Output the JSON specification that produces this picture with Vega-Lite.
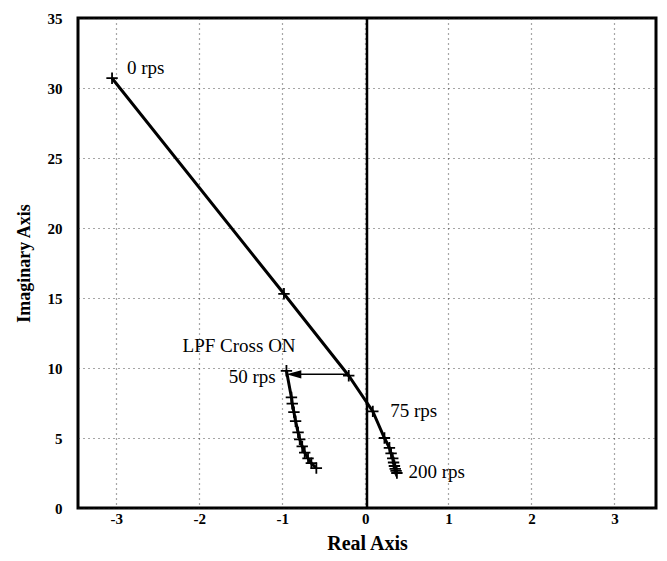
{
  "$schema": "https://vega.github.io/schema/vega-lite/v6.json",
  "autosize": "none",
  "width": 578,
  "height": 490,
  "padding": {"left": 78, "top": 18, "right": 11, "bottom": 53},
  "background": "white",
  "config": {
    "view": {"stroke": "black", "strokeWidth": 3},
    "font": "Liberation Serif",
    "axis": {
      "domain": false,
      "ticks": false,
      "grid": true,
      "gridColor": "#222",
      "gridDash": [1, 4],
      "gridWidth": 1.2,
      "gridOpacity": 0.8,
      "labelFont": "Liberation Serif",
      "labelFontWeight": "bold",
      "labelFontSize": 15,
      "labelColor": "black",
      "titleFont": "Liberation Serif",
      "titleFontWeight": "bold",
      "titleColor": "black"
    }
  },
  "datasets": {
    "curve": [
      {"s": "main", "i": 0, "x": -3.05, "y": 30.7},
      {"s": "main", "i": 1, "x": -0.98, "y": 15.3},
      {"s": "main", "i": 2, "x": -0.2, "y": 9.45},
      {"s": "main", "i": 3, "x": 0.09, "y": 6.9},
      {"s": "main", "i": 4, "x": 0.23, "y": 5.0},
      {"s": "main", "i": 5, "x": 0.29, "y": 4.3},
      {"s": "main", "i": 6, "x": 0.31, "y": 3.9},
      {"s": "main", "i": 7, "x": 0.33, "y": 3.55},
      {"s": "main", "i": 8, "x": 0.34, "y": 3.25},
      {"s": "main", "i": 9, "x": 0.35, "y": 3.0},
      {"s": "main", "i": 10, "x": 0.36, "y": 2.8},
      {"s": "main", "i": 11, "x": 0.37, "y": 2.65},
      {"s": "main", "i": 12, "x": 0.38, "y": 2.5},
      {"s": "lpf", "i": 0, "x": -0.95, "y": 9.8},
      {"s": "lpf", "i": 1, "x": -0.89, "y": 7.9},
      {"s": "lpf", "i": 2, "x": -0.88, "y": 7.45},
      {"s": "lpf", "i": 3, "x": -0.86, "y": 6.85},
      {"s": "lpf", "i": 4, "x": -0.84, "y": 6.2},
      {"s": "lpf", "i": 5, "x": -0.81, "y": 5.4},
      {"s": "lpf", "i": 6, "x": -0.79, "y": 4.9},
      {"s": "lpf", "i": 7, "x": -0.76, "y": 4.4},
      {"s": "lpf", "i": 8, "x": -0.73, "y": 3.95},
      {"s": "lpf", "i": 9, "x": -0.69, "y": 3.55},
      {"s": "lpf", "i": 10, "x": -0.65, "y": 3.2},
      {"s": "lpf", "i": 11, "x": -0.59, "y": 2.85}
    ],
    "labels": [
      {"t": "0 rps", "x": -2.87, "y": 31.4, "a": "left"},
      {"t": "LPF Cross ON", "x": -1.52, "y": 11.55, "a": "center"},
      {"t": "50 rps", "x": -1.08, "y": 9.35, "a": "right"},
      {"t": "75 rps", "x": 0.3, "y": 6.9, "a": "left"},
      {"t": "200 rps", "x": 0.52, "y": 2.6, "a": "left"}
    ],
    "arrow": [
      {"x": -0.22, "x2": -0.82, "y": 9.55, "tip": -0.86}
    ],
    "zero": [{"x": 0.02}]
  },
  "layer": [
    {
      "data": {"name": "zero"},
      "mark": {"type": "rule", "color": "black", "strokeWidth": 2.5},
      "encoding": {
        "x": {
          "field": "x", "type": "quantitative",
          "scale": {"domain": [-3.46, 3.5], "nice": false, "zero": false},
          "axis": {"values": [-3, -2, -1, 0, 1, 2, 3], "labelExpr": "toString(datum.value)", "title": "Real Axis", "titleFontSize": 20, "labelPadding": 3, "titlePadding": 7}
        }
      }
    },
    {
      "data": {"name": "curve"},
      "mark": {"type": "line", "color": "black", "strokeWidth": 3},
      "encoding": {
        "x": {"field": "x", "type": "quantitative"},
        "y": {
          "field": "y", "type": "quantitative",
          "scale": {"domain": [0, 35], "nice": false},
          "axis": {"values": [0, 5, 10, 15, 20, 25, 30, 35], "title": "Imaginary Axis", "titleFontSize": 18, "labelPadding": 16, "titlePadding": 14}
        },
        "detail": {"field": "s"},
        "order": {"field": "i", "type": "quantitative"}
      }
    },
    {
      "data": {"name": "curve"},
      "mark": {"type": "point", "shape": "M-1,0H1M0,-1V1", "filled": false, "color": "black", "strokeWidth": 1.8, "size": 130, "opacity": 1},
      "encoding": {
        "x": {"field": "x", "type": "quantitative"},
        "y": {"field": "y", "type": "quantitative"}
      }
    },
    {
      "data": {"name": "arrow"},
      "mark": {"type": "rule", "color": "black", "strokeWidth": 1.5},
      "encoding": {
        "x": {"field": "x", "type": "quantitative"},
        "x2": {"field": "x2"},
        "y": {"field": "y", "type": "quantitative"}
      }
    },
    {
      "data": {"name": "arrow"},
      "mark": {"type": "point", "shape": "M-1,0L1,-0.55L1,0.55Z", "filled": true, "color": "black", "size": 220, "opacity": 1},
      "encoding": {
        "x": {"field": "tip", "type": "quantitative"},
        "y": {"field": "y", "type": "quantitative"}
      }
    },
    {
      "data": {"name": "labels"},
      "transform": [{"filter": "datum.a === 'left'"}],
      "mark": {"type": "text", "align": "left", "baseline": "middle", "fontSize": 19, "font": "Liberation Serif", "color": "black"},
      "encoding": {
        "x": {"field": "x", "type": "quantitative"},
        "y": {"field": "y", "type": "quantitative"},
        "text": {"field": "t"}
      }
    },
    {
      "data": {"name": "labels"},
      "transform": [{"filter": "datum.a === 'center'"}],
      "mark": {"type": "text", "align": "center", "baseline": "middle", "fontSize": 19, "font": "Liberation Serif", "color": "black"},
      "encoding": {
        "x": {"field": "x", "type": "quantitative"},
        "y": {"field": "y", "type": "quantitative"},
        "text": {"field": "t"}
      }
    },
    {
      "data": {"name": "labels"},
      "transform": [{"filter": "datum.a === 'right'"}],
      "mark": {"type": "text", "align": "right", "baseline": "middle", "fontSize": 19, "font": "Liberation Serif", "color": "black"},
      "encoding": {
        "x": {"field": "x", "type": "quantitative"},
        "y": {"field": "y", "type": "quantitative"},
        "text": {"field": "t"}
      }
    }
  ]
}
